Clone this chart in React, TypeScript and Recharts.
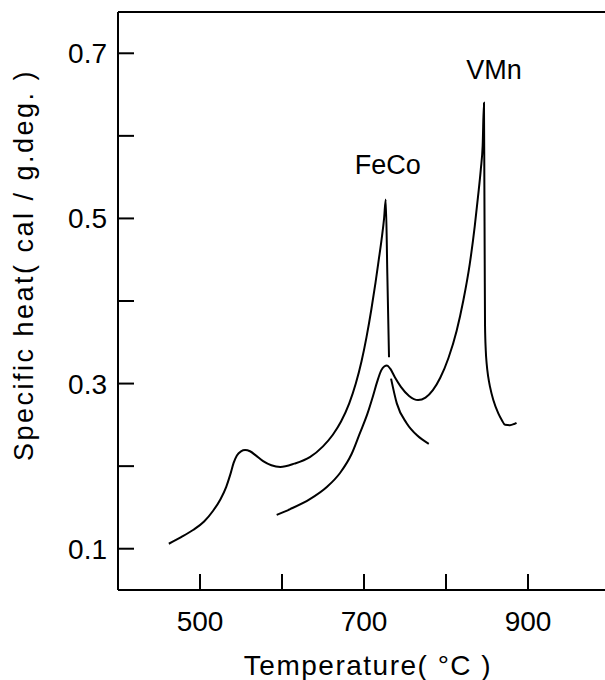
import { LineChart, Line, XAxis, YAxis, ReferenceDot, ReferenceLine } from "recharts";

// temperatures (°C) and specific heat (cal/g.deg.)
const feCoTemp = [
  462, 477, 492, 505, 516, 525, 532, 537, 541, 545, 550, 555, 561, 568, 577, 587, 598,
  615, 634, 650, 662, 672, 682, 690, 697, 703, 709, 714, 718, 721.5, 724.5, 726.5, 728.5, 730.5,
  731.8, 733, 740, 752, 765, 779,
];
const feCoHeat = [
  0.106, 0.114, 0.123, 0.133, 0.146, 0.16, 0.175, 0.19, 0.204, 0.213, 0.218, 0.2195, 0.218, 0.213, 0.206, 0.201, 0.199,
  0.203, 0.211, 0.224, 0.238, 0.254, 0.276, 0.3, 0.327, 0.356, 0.39, 0.422, 0.45, 0.475, 0.5, 0.523, 0.43, 0.332,
  null, 0.306, 0.276, 0.252, 0.237, 0.227,
];

const vmnTemp = [
  593.5, 610, 634, 655, 671, 685, 695, 704, 711, 716, 721, 725, 728, 732, 738, 745, 755, 766,
  775, 784, 793, 803, 813, 821, 829, 835, 839, 842.5, 844.7, 846.3, 846.8, 847.2, 847.6, 848.5,
  849.6, 851.5, 853.7, 857.7, 863.8, 868, 872, 878, 883, 886,
];
const vmnHeat = [
  0.141, 0.148, 0.16, 0.175, 0.192, 0.215, 0.24, 0.263, 0.285, 0.302, 0.316, 0.321, 0.322, 0.318, 0.307, 0.296, 0.285, 0.28,
  0.283, 0.292, 0.307, 0.331, 0.364, 0.4, 0.445, 0.49, 0.526, 0.56, 0.588, 0.64, 0.54, 0.45, 0.37, 0.34,
  0.324, 0.308, 0.296, 0.28, 0.264, 0.256, 0.25, 0.2495, 0.251, 0.2525,
];

const xTicks = [500, 600, 700, 800, 900];
const xTickLabels = ["500", "", "700", "", "900"];
const yTicks = [0.1, 0.2, 0.3, 0.4, 0.5, 0.6, 0.7];
const yTickLabels = ["0.1", "", "0.3", "", "0.5", "", "0.7"];

const curveLabels = [
  { name: "FeCo", temp: 729, heat: 0.566 },
  { name: "VMn", temp: 858.5, heat: 0.681 },
];

const feCoData = feCoTemp.map((t, i) => ({ t, c: feCoHeat[i] }));
const vmnData = vmnTemp.map((t, i) => ({ t, c: vmnHeat[i] }));

const FONT = "'Liberation Sans', Arial, sans-serif";
const tickStyle = { fill: "#000", fontSize: 28, fontFamily: FONT };

export default function App() {
  return (
    <div style={{ position: "absolute", left: 0, top: 0, width: 605, height: 680, overflow: "hidden", background: "#fff" }}>
      <LineChart width={615} height={680} margin={{ top: 12, right: 5, left: 0, bottom: 0 }}>
        <XAxis
          type="number"
          dataKey="t"
          domain={[400, 1000]}
          ticks={xTicks}
          tickFormatter={(v) => xTickLabels[xTicks.indexOf(v)] ?? ""}
          allowDataOverflow
          height={90}
          stroke="#000"
          strokeWidth={2}
          tickSize={-16}
          tickMargin={37}
          tick={tickStyle}
          label={{
            content: () => (
              <text x={368} y={675} textAnchor="middle" fontSize={28} fontFamily={FONT} letterSpacing={1.5} fill="#000">
                Temperature( °C )
              </text>
            ),
          }}
        />
        <YAxis
          type="number"
          domain={[0.05, 0.75]}
          ticks={yTicks}
          tickFormatter={(v) => yTickLabels[yTicks.indexOf(v)] ?? ""}
          allowDataOverflow
          width={118}
          stroke="#000"
          strokeWidth={2}
          tickSize={-16}
          tickMargin={27}
          tick={tickStyle}
          label={{
            content: () => (
              <text
                x={24}
                y={265}
                transform="rotate(-90, 24, 265)"
                textAnchor="middle"
                dominantBaseline="central"
                fontSize={27}
                fontFamily={FONT}
                letterSpacing={2.5}
                fill="#000"
              >
                Specific heat( cal / g.deg. )
              </text>
            ),
          }}
        />
        <ReferenceLine y={0.75} stroke="#000" strokeWidth={2} />
        <Line
          data={feCoData}
          dataKey="c"
          type="monotone"
          stroke="#000"
          strokeWidth={2}
          dot={false}
          isAnimationActive={false}
        />
        <Line
          data={vmnData}
          dataKey="c"
          type="monotone"
          stroke="#000"
          strokeWidth={2}
          dot={false}
          isAnimationActive={false}
        />
        {curveLabels.map((l) => (
          <ReferenceDot
            key={l.name}
            x={l.temp}
            y={l.heat}
            r={0}
            stroke="none"
            fill="none"
            label={{ value: l.name, position: "center", fontSize: 27, fontFamily: FONT, fill: "#000" }}
          />
        ))}
      </LineChart>
    </div>
  );
}
